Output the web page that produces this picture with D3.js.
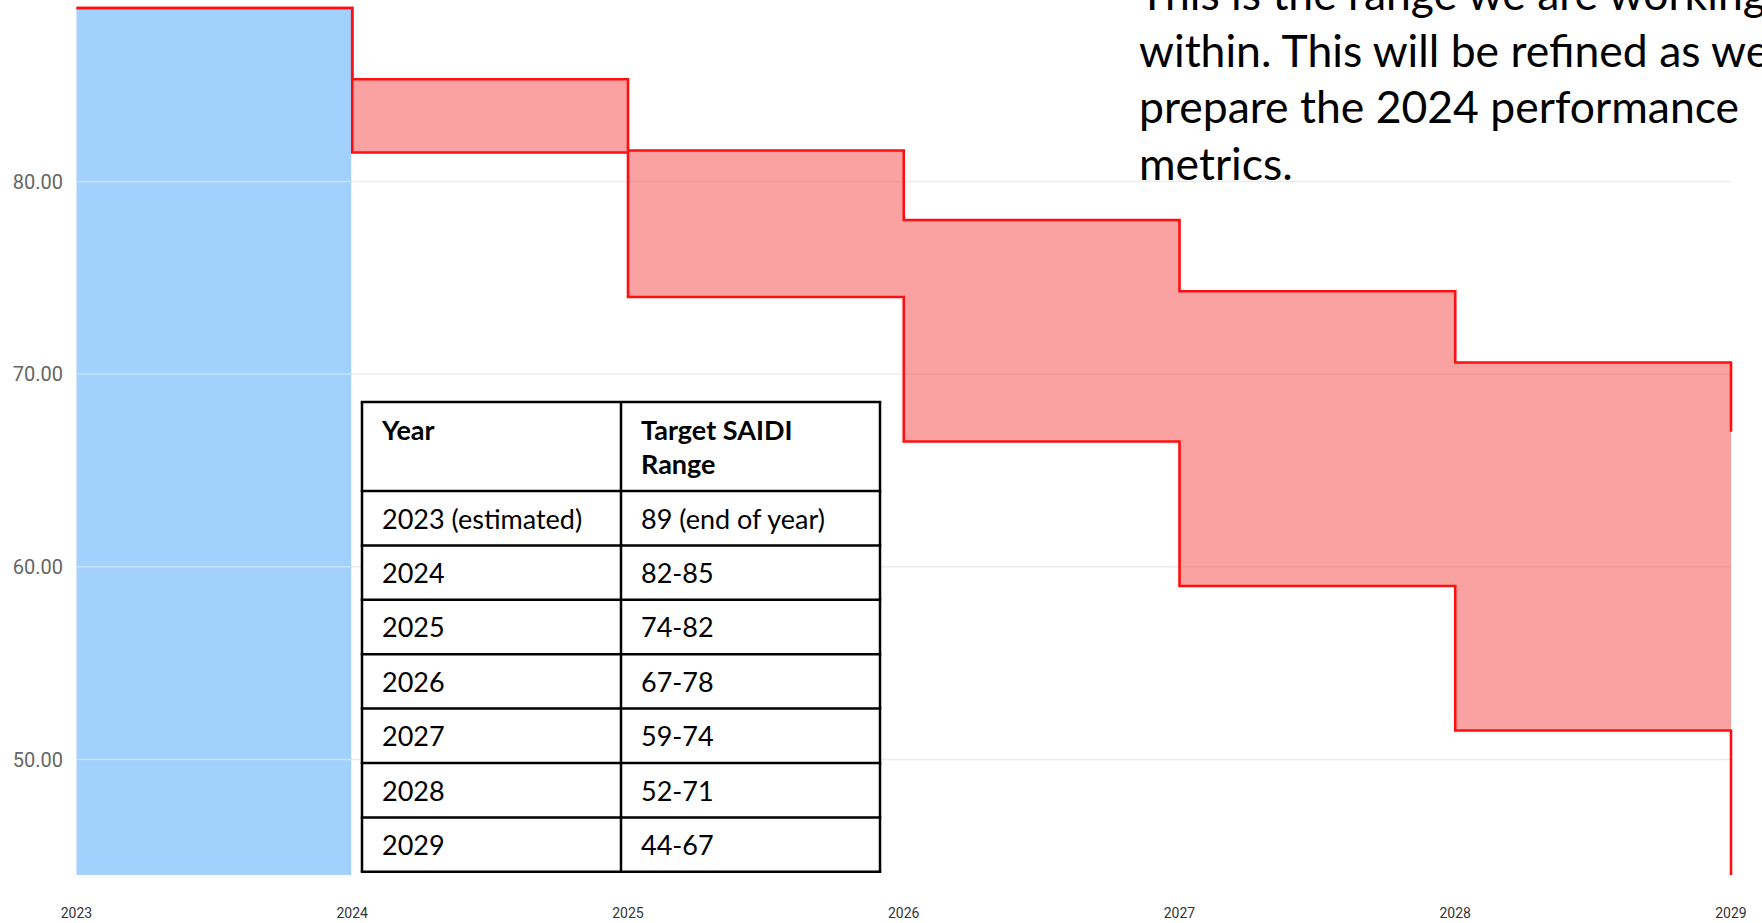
<!DOCTYPE html>
<meta charset="utf-8">
<body>
<script src="https://cdn.jsdelivr.net/npm/d3@7"></script>
<style>
    html, body {
        margin: 0;
        background: #fff;
        overflow: hidden;
    }
</style>
<script>
var width = 1762,
    height = 923;

// step range: value at a year holds until the next year
var years = [2023, 2024, 2025, 2026, 2027, 2028, 2029],
    upper = [89, 85.3, 81.6, 78.0, 74.3, 70.6, 67.0],
    lower = [89, 81.5, 74.0, 66.5, 59.0, 51.5, 44.0];

var actualYears = [2023, 2024],
    actualValue = 89;

var yTicks = [50, 60, 70, 80];

var tableHead = ["Year", "Target SAIDI|Range"],
    tableYears = ["2023 (estimated)", "2024", "2025", "2026", "2027", "2028", "2029"],
    tableRanges = ["89 (end of year)", "82-85", "74-82", "67-78", "59-74", "52-71", "44-67"];

var note = [
    "This is the range we are working",
    "within. This will be refined as we",
    "prepare the 2024 performance",
    "metrics."
];

var x = d3.scaleLinear().domain([2023, 2029]).range([76.5, 1731]),
    y = d3.scaleLinear().domain([44, 89]).range([875, 8]);

var svg = d3.select("body").append("svg")
    .attr("width", width)
    .attr("height", height);

var data = years.map(function(d, i) { return {year: d, hi: upper[i], lo: lower[i]}; });

// grid
svg.append("g")
    .selectAll("line")
    .data(yTicks)
    .enter().append("line")
    .attr("x1", x(2023))
    .attr("x2", x(2029))
    .attr("y1", function(d) { return y(d); })
    .attr("y2", function(d) { return y(d); })
    .attr("stroke", "#ececec")
    .attr("stroke-width", 1.5);

// 2023 actual bar
svg.append("rect")
    .attr("x", x(actualYears[0]))
    .attr("width", x(actualYears[1]) - x(actualYears[0]) - 1)
    .attr("y", y(actualValue))
    .attr("height", y(44) - y(actualValue))
    .attr("fill", "#a3d1fd");

// grid shows lighter across the blue bar
svg.append("g")
    .selectAll("line")
    .data(yTicks)
    .enter().append("line")
    .attr("x1", x(2023))
    .attr("x2", x(2024) - 1)
    .attr("y1", function(d) { return y(d); })
    .attr("y2", function(d) { return y(d); })
    .attr("stroke", "#c9e2fb")
    .attr("stroke-width", 1.5);

var area = d3.area()
    .curve(d3.curveStepAfter)
    .x(function(d) { return x(d.year); })
    .y0(function(d) { return y(d.lo); })
    .y1(function(d) { return y(d.hi); });

svg.append("path")
    .datum(data)
    .attr("d", area)
    .attr("fill", "rgba(245, 70, 70, 0.5)");

var lineHi = d3.line()
    .curve(d3.curveStepAfter)
    .x(function(d) { return x(d.year); })
    .y(function(d) { return y(d.hi); });

var lineLo = d3.line()
    .curve(d3.curveStepAfter)
    .x(function(d) { return x(d.year); })
    .y(function(d) { return y(d.lo); });

svg.append("path")
    .datum(data)
    .attr("d", lineHi)
    .attr("fill", "none")
    .attr("stroke", "#ff1010")
    .attr("stroke-width", 2.6);

svg.append("path")
    .datum(data)
    .attr("d", lineLo)
    .attr("fill", "none")
    .attr("stroke", "#ff1010")
    .attr("stroke-width", 2.6);

// y axis labels
svg.append("g")
    .selectAll("text")
    .data(yTicks)
    .enter().append("text")
    .attr("x", 63)
    .attr("y", function(d) { return y(d); })
    .attr("dy", "0.36em")
    .attr("text-anchor", "end")
    .attr("font-family", "Roboto, sans-serif")
    .attr("font-size", 20)
    .attr("fill", "#666")
    .text(d3.format(".2f"));

// x axis labels
svg.append("g")
    .selectAll("text")
    .data(years)
    .enter().append("text")
    .attr("x", function(d) { return x(d); })
    .attr("y", 918)
    .attr("text-anchor", "middle")
    .attr("font-family", "Roboto, sans-serif")
    .attr("font-size", 14)
    .attr("fill", "#333")
    .text(function(d) { return d; });

// table
var tx = [362, 621, 880],
    ty = [402, 491];
for (var i = 0; i < tableYears.length; i++) ty.push(491 + (i + 1) * 54.4);

var table = svg.append("g")
    .attr("font-family", "Lato, sans-serif")
    .attr("font-size", 27)
    .attr("fill", "#000");

table.append("rect")
    .attr("x", tx[0]).attr("y", ty[0])
    .attr("width", tx[2] - tx[0]).attr("height", ty[ty.length - 1] - ty[0])
    .attr("fill", "#fff");

table.selectAll("line.h")
    .data(ty)
    .enter().append("line")
    .attr("x1", tx[0] - 1.25).attr("x2", tx[2] + 1.25)
    .attr("y1", function(d) { return d; }).attr("y2", function(d) { return d; })
    .attr("stroke", "#000").attr("stroke-width", 2.5);

table.selectAll("line.v")
    .data(tx)
    .enter().append("line")
    .attr("y1", ty[0]).attr("y2", ty[ty.length - 1])
    .attr("x1", function(d) { return d; }).attr("x2", function(d) { return d; })
    .attr("stroke", "#000").attr("stroke-width", 2.5);

tableHead.forEach(function(h, c) {
    h.split("|").forEach(function(t, k) {
        table.append("text")
            .attr("x", tx[c] + 20)
            .attr("y", ty[0] + 37.5 + k * 34)
            .attr("font-weight", "bold")
            .text(t);
    });
});

tableYears.forEach(function(t, r) {
    table.append("text")
        .attr("x", tx[0] + 20)
        .attr("y", ty[r + 1] + 37.5)
        .text(t);
    table.append("text")
        .attr("x", tx[1] + 20)
        .attr("y", ty[r + 1] + 37.5)
        .text(tableRanges[r]);
});

// note, running off the top and right edge as in the source
svg.append("g")
    .selectAll("text")
    .data(note)
    .enter().append("text")
    .attr("x", 1139)
    .attr("y", function(d, i) { return 10 + i * 56.7; })
    .attr("font-family", "Lato, sans-serif")
    .attr("font-size", 44.5)
    .attr("fill", "#000")
    .text(function(d) { return d; });
</script>
